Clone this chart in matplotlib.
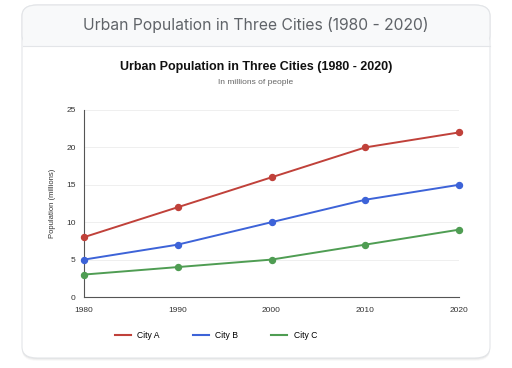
import matplotlib
matplotlib.use("Agg")
import matplotlib.pyplot as plt
from matplotlib.patches import FancyBboxPatch, Rectangle
from matplotlib.lines import Line2D

plt.rcParams['font.family'] = ['Liberation Sans', 'DejaVu Sans']

years = [1980, 1990, 2000, 2010, 2020]
city_a = [8, 12, 16, 20, 22]
city_b = [5, 7, 10, 13, 15]
city_c = [3, 4, 5, 7, 9]
series_names = ["City A", "City B", "City C"]
colors = ["#c0413a", "#3d63d8", "#4f9d53"]
y_ticks = [0, 5, 10, 15, 20, 25]

W, H = 512, 368
fig = plt.figure(figsize=(W / 100, H / 100), dpi=100)
fig.patch.set_facecolor("white")


def fx(px):
    return px / W


def fy(py):
    return 1 - py / H


# card with soft shadow
for off, alpha in [(3, 0.025), (2, 0.035), (1, 0.045)]:
    fig.patches.append(FancyBboxPatch(
        (fx(22), fy(358 + off)), fx(468), (358 - 5) / H,
        boxstyle="round,pad=0,rounding_size=0.03", transform=fig.transFigure,
        facecolor="black", edgecolor="none", alpha=alpha, zorder=0))
card = FancyBboxPatch((fx(22), fy(358)), fx(468), (358 - 5) / H,
                      boxstyle="round,pad=0,rounding_size=0.03",
                      transform=fig.transFigure, facecolor="white",
                      edgecolor="#e3e5e8", linewidth=0.8, zorder=1)
fig.patches.append(card)
# header band
header = FancyBboxPatch((fx(22), fy(46)), fx(468), (46 - 5) / H,
                        boxstyle="round,pad=0,rounding_size=0.03",
                        transform=fig.transFigure, facecolor="#f8f9fa",
                        edgecolor="#e3e5e8", linewidth=0.8, zorder=2)
fig.patches.append(header)
fig.patches.append(Rectangle((fx(23), fy(46)), fx(466), 14 / H,
                             transform=fig.transFigure, facecolor="#f8f9fa",
                             edgecolor="none", zorder=3))
fig.add_artist(Line2D([fx(22.5), fx(489.5)], [fy(46), fy(46)],
                      color="#e3e5e8", linewidth=0.8, zorder=4))

fig.text(0.5, fy(25), "Urban Population in Three Cities (1980 - 2020)",
         ha="center", va="center", fontsize=11.3, color="#5f6368",
         family=["Inter", "DejaVu Sans"], zorder=5)
fig.text(0.5, fy(67), "Urban Population in Three Cities (1980 - 2020)",
         ha="center", va="center", fontsize=9, fontweight="bold",
         color="#111111", zorder=5)
fig.text(0.5, fy(83), "In millions of people", ha="center", va="center",
         fontsize=6, color="#666666", zorder=5)

ax = fig.add_axes([fx(84), fy(297), fx(459 - 84), (297 - 110) / H])
ax.set_facecolor("none")
ax.set_zorder(6)

for vals, name, c in zip([city_a, city_b, city_c], series_names, colors):
    ax.plot(years, vals, color=c, linewidth=1.4, marker="o", markersize=4.3,
            label=name, clip_on=False, zorder=3)

ax.set_xlim(1980, 2020)
ax.set_ylim(0, 25)
ax.set_xticks(years)
ax.set_yticks(y_ticks)
ax.tick_params(axis="x", length=0, labelsize=6, colors="#333333", pad=7)
ax.tick_params(axis="y", length=0, labelsize=6, colors="#333333", pad=6)
ax.grid(axis="y", color="#ececec", linewidth=0.6)
ax.set_axisbelow(True)
for s in ["top", "right"]:
    ax.spines[s].set_visible(False)
for s in ["left", "bottom"]:
    ax.spines[s].set_color("#555555")
    ax.spines[s].set_linewidth(0.8)
ax.set_ylabel("Population (millions)", fontsize=5.5, color="#333333", labelpad=7)

handles = [Line2D([], [], color=c, linewidth=1.5) for c in colors]
fig.legend(handles, series_names, loc="center", ncol=3,
           bbox_to_anchor=(fx(216), fy(336)), frameon=False, fontsize=6.2,
           handlelength=1.85, columnspacing=3.8, handletextpad=0.8)

fig.savefig("out.png", dpi=100, facecolor="white")
